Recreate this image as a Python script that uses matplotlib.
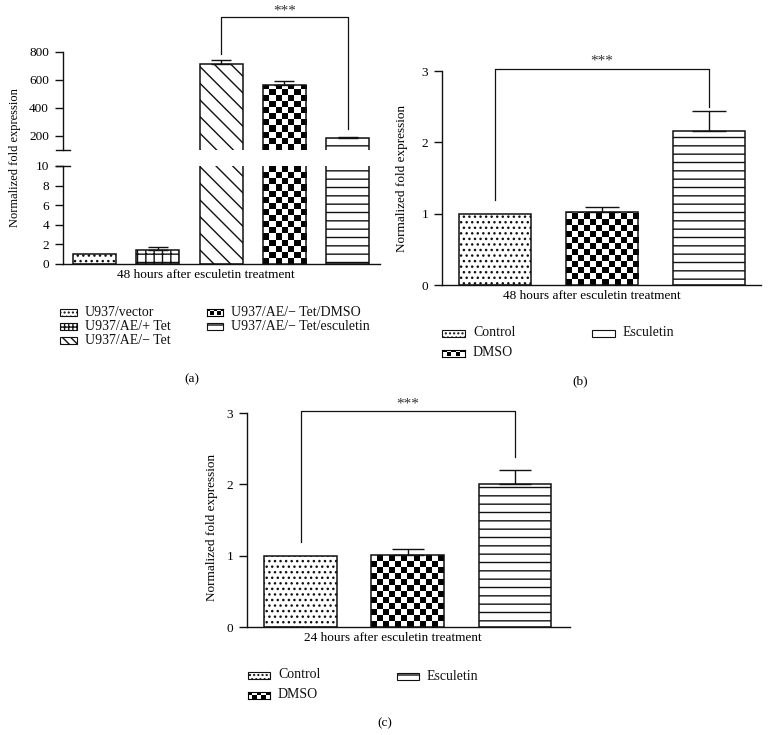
import numpy as np
import matplotlib
matplotlib.use('Agg')
import matplotlib.pyplot as plt
from matplotlib.patches import Rectangle

plt.rcParams['font.family'] = ['Liberation Serif', 'DejaVu Serif']
plt.rcParams['hatch.linewidth'] = 1.0

# ---------------- data ----------------
a_labels = ['U937/vector', 'U937/AE/+ Tet', 'U937/AE/\u2212 Tet',
            'U937/AE/\u2212 Tet/DMSO', 'U937/AE/\u2212 Tet/esculetin']
a_values = [1.0, 1.45, 716, 564, 188]
a_err = [0.0, 0.25, 27, 29, 7]
a_hatches = ['...', '++', '\\\\', 'checker', '--']
a_leg_hatches = ['....', '++++', '\\\\\\\\', 'checker', '-']

b_labels = ['Control', 'DMSO', 'Esculetin']
b_values = [1.0, 1.03, 2.16]
b_err = [0.0, 0.06, 0.28]

c_labels = ['Control', 'DMSO', 'Esculetin']
c_values = [1.0, 1.01, 2.0]
c_err = [0.0, 0.08, 0.20]
bc_hatches = ['...', 'checker', '--']
bc_leg_hatches = ['....', 'checker', '-']

xlabel_48 = '48 hours after esculetin treatment'
xlabel_24 = '24 hours after esculetin treatment'
ylabel = 'Normalized fold expression'
a_upper_ticks = [200, 400, 600, 800]
a_lower_ticks = [0, 2, 4, 6, 8, 10]
bc_ticks = [0, 1, 2, 3]
sig_text = '***'

# ---------------- layout ----------------
W, H = 772, 735
EC = '#111111'
fig = plt.figure(figsize=(W / 100, H / 100), dpi=100)


def fax(x0, y0, x1, y1):
    """axes from pixel box (top-left origin)"""
    return fig.add_axes([x0 / W, 1 - y1 / H, (x1 - x0) / W, (y1 - y0) / H])


def style(ax, ticks, bottom=True, fs=9.5):
    for s in ['top', 'right']:
        ax.spines[s].set_visible(False)
    for s in ['left', 'bottom']:
        ax.spines[s].set_linewidth(1.0)
        ax.spines[s].set_color(EC)
    if not bottom:
        ax.spines['bottom'].set_visible(False)
    ax.set_xticks([])
    ax.set_yticks(ticks)
    ax.set_yticklabels([str(t) for t in ticks])
    ax.tick_params(axis='y', length=6, width=1.0, labelsize=fs, pad=4, color=EC)


def draw_bars(ax, values, errs, hatches, width, capsize, ylim, xlim):
    ax.set_xlim(*xlim)
    ax.set_ylim(*ylim)
    fig.canvas.draw()
    bb = ax.get_window_extent()
    pxw, pxh = bb.width, bb.height
    xunit = (xlim[1] - xlim[0]) / pxw
    x = np.arange(len(values))
    for xi, v, e, h in zip(x, values, errs, hatches):
        if h == 'checker':
            bars = ax.bar(xi, v, width, color='white', edgecolor='none', zorder=2)
            rect = bars.patches[0]
            ncols = max(2, int(round(width / xunit / 6.0)))
            nrows = max(2, int(round(pxh / 6.0)))
            ii, jj = np.indices((nrows, ncols))
            arr = ((ii + jj) % 2).astype(float)
            im = ax.imshow(arr, cmap='gray', vmin=0, vmax=1,
                           extent=(xi - width / 2, xi + width / 2, ylim[0], ylim[1]),
                           aspect='auto', interpolation='nearest', zorder=3,
                           origin='lower')
            im.set_clip_path(rect)
            ax.bar(xi, v, width, fill=False, edgecolor=EC, lw=1.1, zorder=4)
        else:
            ax.bar(xi, v, width, color='white', edgecolor=EC, hatch=h, lw=1.1, zorder=2)
        if e > 0:
            ax.errorbar(xi, v, yerr=[[0], [e]], fmt='none', ecolor=EC,
                        elinewidth=1.0, capsize=capsize, capthick=1.0, zorder=5)
    ax.set_xlim(*xlim)
    ax.set_ylim(*ylim)


def sig(ax, i, j, top, yi, yj, txt_y):
    ax.plot([i, i, j, j], [yi, top, top, yj], color=EC, lw=0.9,
            clip_on=False, zorder=6)
    ax.text((i + j) / 2, txt_y, sig_text, ha='center', va='center',
            fontsize=11, color='#333333', clip_on=False)


def legend_item(x, y, w, h, hatch, label, fs):
    if hatch == 'checker':
        lax = fax(x, y - h / 2, x + w, y + h / 2)
        n = 5
        ii, jj = np.indices((2, n))
        arr = ((ii + jj) % 2).astype(float)
        lax.imshow(arr, cmap='gray', vmin=0, vmax=1, aspect='auto',
                   interpolation='nearest')
        lax.set_xticks([])
        lax.set_yticks([])
        for s in lax.spines.values():
            s.set_linewidth(0.8)
    else:
        r = Rectangle((x / W, 1 - (y + h / 2) / H), w / W, h / H,
                      transform=fig.transFigure, facecolor='white',
                      edgecolor=EC, hatch=hatch, lw=0.8)
        fig.add_artist(r)
    fig.text((x + w + 8) / W, 1 - y / H, label, ha='left', va='center',
             fontsize=fs, color='#111111')


# ---------------- panel (a) ----------------
xlim_a = (-0.50, 4.51)
ax_lo = fax(63, 166, 380, 264)
ax_up = fax(63, 52, 380, 150)
style(ax_lo, a_lower_ticks)
style(ax_up, a_upper_ticks, bottom=False)
draw_bars(ax_lo, a_values, a_err, a_hatches, 0.68, 7.5, (0, 10), xlim_a)
draw_bars(ax_up, a_values, a_err, a_hatches, 0.68, 7.5, (100, 800), xlim_a)
# break marks
for ax_, yv in [(ax_up, 0), (ax_lo, 1)]:
    ax_.plot([-0.022, 0.022], [yv, yv], transform=ax_.transAxes, color=EC,
             lw=1.0, clip_on=False)
sig(ax_up, 2, 4, 1050, 784, 248, 1095)
fig.text(206 / W, 1 - 275 / H, xlabel_48, ha='center', va='center', fontsize=9.5)
fig.text(15 / W, 1 - 158 / H, ylabel, ha='center', va='center',
         rotation=90, fontsize=9)

# legend (a)
for k, (lab, hat) in enumerate(zip(a_labels, a_leg_hatches)):
    if k < 3:
        legend_item(60, 312 + 14 * k, 17, 7, hat, lab, 10)
    else:
        legend_item(207, 312 + 14 * (k - 3), 16, 7, hat, lab, 10)
fig.text(192 / W, 1 - 379 / H, '(a)', ha='center', va='center', fontsize=9.5)

# ---------------- panel (b) ----------------
ax_b = fax(442, 71, 761, 285)
style(ax_b, bc_ticks)
draw_bars(ax_b, b_values, b_err, bc_hatches, 0.673, 12.5, (0, 3), (-0.495, 2.486))
sig(ax_b, 0, 2, 3.03, 1.19, 2.50, 3.14)
fig.text(592 / W, 1 - 296 / H, xlabel_48, ha='center', va='center', fontsize=9.5)
fig.text(402 / W, 1 - 178 / H, ylabel, ha='center', va='center',
         rotation=90, fontsize=9.5)
legend_item(442, 333, 23, 7, bc_leg_hatches[0], b_labels[0], 10)
legend_item(442, 353, 23, 7, bc_leg_hatches[1], b_labels[1], 10)
legend_item(592, 333, 23, 7, bc_leg_hatches[2], b_labels[2], 10)
fig.text(580 / W, 1 - 381 / H, '(b)', ha='center', va='center', fontsize=9.5)

# ---------------- panel (c) ----------------
ax_c = fax(247, 413, 570, 627)
style(ax_c, bc_ticks)
draw_bars(ax_c, c_values, c_err, bc_hatches, 0.68, 11.7, (0, 3), (-0.499, 2.513))
sig(ax_c, 0, 2, 3.03, 1.19, 2.39, 3.13)
fig.text(393 / W, 1 - 638 / H, xlabel_24, ha='center', va='center', fontsize=9.5)
fig.text(212 / W, 1 - 527 / H, ylabel, ha='center', va='center',
         rotation=90, fontsize=9.5)
legend_item(248, 675, 22, 7, bc_leg_hatches[0], c_labels[0], 10)
legend_item(248, 695, 22, 7, bc_leg_hatches[1], c_labels[1], 10)
legend_item(397, 676, 22, 7, bc_leg_hatches[2], c_labels[2], 10)
fig.text(385 / W, 1 - 723 / H, '(c)', ha='center', va='center', fontsize=9.5)

fig.savefig('out.png', dpi=100, facecolor='white')
